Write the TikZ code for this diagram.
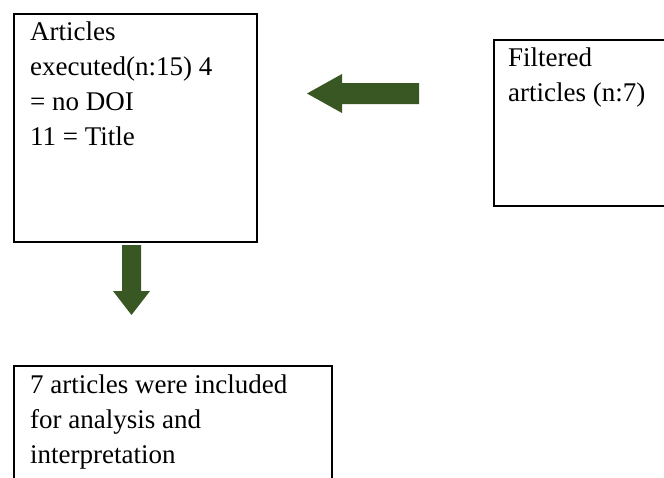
\documentclass[tikz,border=0pt]{standalone}
\usepackage{fontspec}
\setmainfont{Liberation Serif}
\definecolor{arrowgreen}{HTML}{385723}
\begin{document}
\begin{tikzpicture}[x=1pt,y=-1pt,
  box/.style={draw=black,line width=2pt,fill=none},
  txt/.style={anchor=base west,inner sep=0pt,font=\fontsize{27}{33}\selectfont},
  blockarrow/.style={fill=arrowgreen,draw=none}]
\useasboundingbox (0,0) rectangle (664,477);
\begin{scope}
\clip (0,0) rectangle (664,477);
% boxes
\node[box,anchor=north west,minimum width=243pt,minimum height=228pt,inner sep=0pt] (box1) at (13,13) {};
\node[box,anchor=north west,minimum width=210pt,minimum height=166pt,inner sep=0pt] (box2) at (493,39) {};
\node[box,anchor=north west,minimum width=318pt,minimum height=140pt,inner sep=0pt] (box3) at (13,365) {};
% box 1 text
\node[txt] (t1a) at (30,40) {Articles};
\node[txt] (t1b) at (30,75) {executed(n:15) 4};
\node[txt] (t1c) at (30,110) {= no DOI};
\node[txt] (t1d) at (30,145) {11 = Title};
% box 2 text
\node[txt] (t2a) at (508,66) {Filtered};
\node[txt] (t2b) at (508,101) {articles (n:7)};
% box 3 text
\node[txt] (t3a) at (30,393) {7 articles were included};
\node[txt] (t3b) at (30,428) {for analysis and};
\node[txt] (t3c) at (30,463) {interpretation};
% left arrow
\fill[blockarrow] (307,93.5) -- (342,74) -- (342,83) -- (419,83) -- (419,104) -- (342,104) -- (342,113) -- cycle;
% down arrow
\fill[blockarrow] (122,245) -- (141,245) -- (141,291) -- (150,291) -- (131.5,315) -- (113,291) -- (122,291) -- cycle;
\end{scope}
\end{tikzpicture}
\end{document}
